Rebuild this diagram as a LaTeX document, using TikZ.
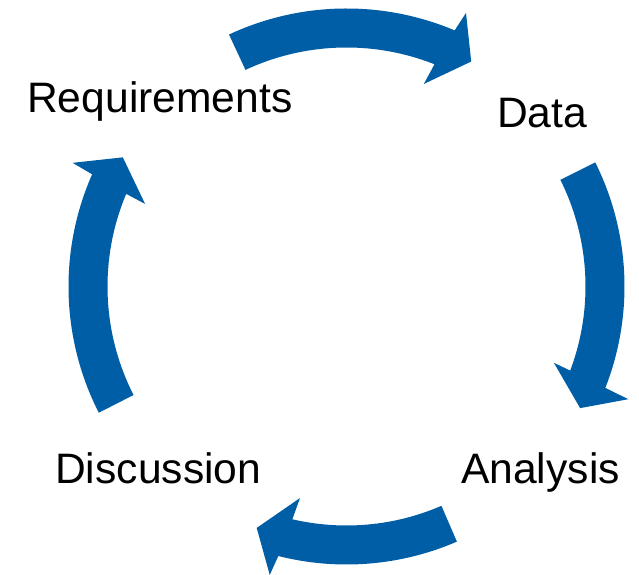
\documentclass[tikz,border=0pt]{standalone}
\usepackage{fontspec}
\setmainfont{Liberation Sans}
\usetikzlibrary{calc}
\definecolor{cycblue}{RGB}{0,94,166}
\newcommand\cycarrow[9]{%
\fill[arrowfill] ($(C)+(#1:278bp)$) arc[start angle=#1, end angle=#2, radius=278bp]
 -- ($(C)+(#4:#5bp)$) -- ($(C)+(#6:#7bp)$) -- ($(C)+(#8:#9bp)$)
 -- ($(C)+(#3:239bp)$) arc[start angle=#3, end angle=#1, radius=239bp] -- cycle;}
\begin{document}
\begin{tikzpicture}[x=1bp,y=1bp,
  arrowfill/.style={fill=cycblue},
  label/.style={anchor=base west, inner sep=0pt, font=\fontsize{42.6bp}{50bp}\selectfont}]
\useasboundingbox (0,0) rectangle (639,575);
\coordinate (C) at (346.5,288.5);
% top arrow
\cycarrow{115}{67.1}{68.4}{66.4}{298.5}{61}{257.2}{69.1}{216.8}
% right arrow
\cycarrow{26.5}{-21.4}{-20.6}{-21.8}{303.5}{-27.5}{263.4}{-20.2}{221}
% bottom arrow
\cycarrow{-66.6}{-104.2}{-103.1}{-104.9}{298.5}{-110.4}{257.6}{-102.4}{216.6}
% left arrow
\cycarrow{207}{156.2}{157.2}{155.7}{300.5}{150}{258.3}{157.7}{217.7}
\node[label] (req) at (27,462.7) {Requirements};
\node[label] (data) at (497,447.7) {Data};
\node[label] (ana) at (461,91.7) {Analysis};
\node[label] (disc) at (55,91.7) {Discussion};
\end{tikzpicture}
\end{document}
